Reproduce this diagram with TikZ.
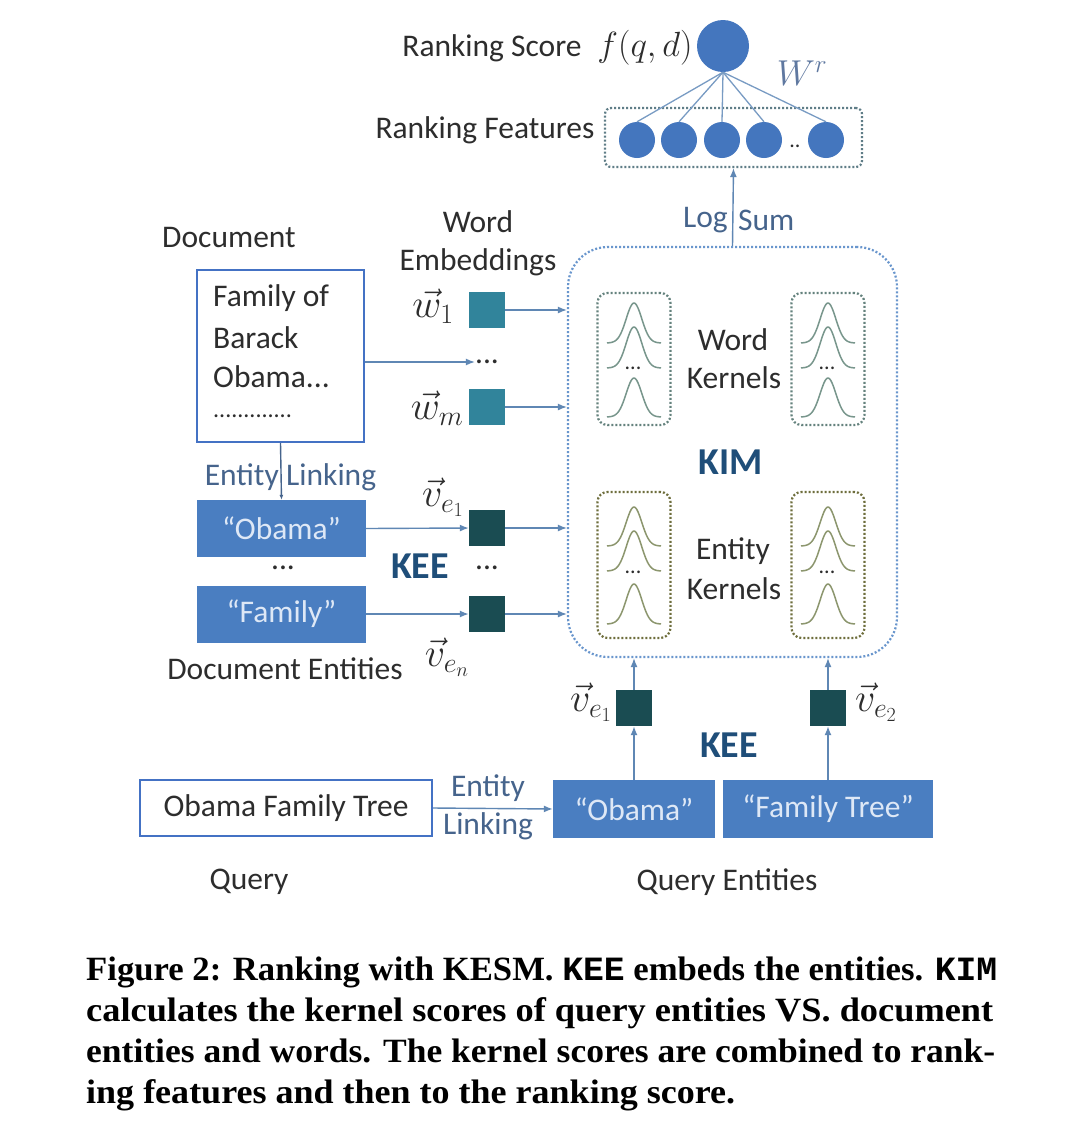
\RequirePackage{fix-cm}
\documentclass[tikz,border=0pt]{standalone}
\usepackage{amsmath}
\usepackage{fontspec}
\setmainfont{Carlito}
\newfontfamily\capfont{Liberation Serif}
\newfontfamily\capmono{Liberation Mono}
\usepackage{graphicx}
\usetikzlibrary{arrows.meta}

\definecolor{txt}{RGB}{45,45,45}
\definecolor{circblue}{RGB}{68,118,190}
\definecolor{featc}{RGB}{95,125,135}
\definecolor{linec}{RGB}{120,155,195}
\definecolor{wrc}{RGB}{95,120,160}
\definecolor{linkc}{RGB}{70,100,140}
\definecolor{kimc}{RGB}{105,150,205}
\definecolor{wkc}{RGB}{100,130,125}
\definecolor{ekc}{RGB}{110,110,60}
\definecolor{wcurve}{RGB}{120,150,140}
\definecolor{ecurve}{RGB}{140,150,110}
\definecolor{arrc}{RGB}{95,135,180}
\definecolor{docblue}{RGB}{68,114,196}
\definecolor{entblue}{RGB}{74,126,193}
\definecolor{enttxt}{RGB}{222,232,246}
\definecolor{wteal}{RGB}{49,132,155}
\definecolor{eteal}{RGB}{26,76,82}
\definecolor{keeblue}{RGB}{31,78,121}

\newcommand\gaussc[4]{\draw[#4] plot[domain=-27:27,samples=41,smooth] ({#1+\x},{#3-(#3-#2)*exp(-(\x/11)*(\x/11))});}

\begin{document}
\begin{tikzpicture}[x=1pt,y=-1pt,
  lbl/.style={font=\fontsize{31.5}{36}\selectfont, text=txt, inner sep=0pt},
  mth/.style={font=\fontsize{40}{44}\selectfont, text=txt, inner sep=0pt},
  bld/.style={font=\fontsize{38}{40}\selectfont\bfseries, text=keeblue, inner sep=0pt},
  arr/.style={draw=arrc, line width=1.4pt, -{Latex[length=9pt,width=7pt]}},
  docbox/.style={draw=docblue, line width=2.2pt, fill=white, inner sep=0pt},
  entbox/.style={fill=entblue, inner sep=0pt, text=enttxt, font=\fontsize{31.5}{36}\selectfont},
  wsq/.style={fill=wteal, minimum size=36, inner sep=0pt},
  esq/.style={fill=eteal, minimum size=36, inner sep=0pt},
  fcirc/.style={circle, fill=circblue, minimum size=36, inner sep=0pt},
  dotb/.style={draw=#1, line width=2.2pt, dash pattern=on 2pt off 2pt, inner sep=0pt},
  wcur/.style={draw=wcurve, line width=1.5pt},
  ecur/.style={draw=ecurve, line width=1.5pt},
  capline/.style={anchor=base west, inner sep=0pt, text=black, font=\capfont\bfseries\fontsize{34}{41}\selectfont},
]
\fill[white] (0,0) rectangle (1080,1133);
\useasboundingbox (0,0) rectangle (1080,1133);

% ---------- top: ranking score & features
\node[circle, fill=circblue, minimum size=52, inner sep=0pt] (score) at (723,46) {};
\node[lbl] (rs) at (492,48) {Ranking Score};
\node[mth, font=\fontsize{35}{40}\selectfont] (fqd) at (645,48) {$f(q,d)$};
\node[dotb=featc, rounded corners=6pt, minimum width=257, minimum height=59] (feat) at (733.5,137.5) {};
\foreach \n/\xx in {1/637,2/679,3/722,4/764,5/826} \node[fcirc] (f\n) at (\xx,140) {};
\node[lbl, font=\fontsize{22}{22}\selectfont] (fdots) at (795,146) {..};
\foreach \n in {1,...,5} \draw[draw=linec, line width=1.3pt] (score.south) -- (f\n.north);
\node[mth, text=wrc, font=\fontsize{36}{40}\selectfont] (wlabel) at (802,73) {$W^r$};
\node[lbl] (rf) at (485,130) {Ranking Features};

% ---------- KIM
\node[dotb=kimc, rounded corners=40pt, minimum width=329, minimum height=410] (kim) at (732.5,452) {};
\draw[arr] (kim.north) -- (feat.south);
\node[lbl, text=linkc, anchor=east] (log) at (728,220) {Log};
\node[lbl, text=linkc, anchor=west] (sum) at (738,220) {Sum};

\node[dotb=wkc, rounded corners=10pt, minimum width=73, minimum height=132] (kwl) at (634,359) {};
\node[dotb=wkc, rounded corners=10pt, minimum width=73, minimum height=132] (kwr) at (828,359) {};
\node[dotb=ekc, rounded corners=10pt, minimum width=73, minimum height=146] (kel) at (634,565) {};
\node[dotb=ekc, rounded corners=10pt, minimum width=73, minimum height=146] (ker) at (828,565) {};

\foreach \cx in {634,828}{
  \gaussc{\cx}{303}{343}{wcur}
  \gaussc{\cx}{327}{368}{wcur}
  \gaussc{\cx}{378}{417}{wcur}
  \gaussc{\cx}{507}{546}{ecur}
  \gaussc{\cx}{531}{571}{ecur}
  \gaussc{\cx}{584}{624}{ecur}
}
\node[lbl, font=\fontsize{22}{22}\selectfont] (kd1) at (633,368) {...};
\node[lbl, font=\fontsize{22}{22}\selectfont] (kd2) at (827,368) {...};
\node[lbl, font=\fontsize{22}{22}\selectfont] (kd3) at (633,572) {...};
\node[lbl, font=\fontsize{22}{22}\selectfont] (kd4) at (827,572) {...};

\node[lbl] (wk1) at (733,340) {Word};
\node[lbl] (wk2) at (734,378) {Kernels};
\node[bld] (kimt) at (731,462) {KIM};
\node[lbl] (ek1) at (733,551) {Entity};
\node[lbl] (ek2) at (734,589) {Kernels};

% ---------- document & word embeddings
\node[lbl] (doct) at (229,238) {Document};
\node[docbox, minimum width=167, minimum height=172] (doc) at (280.5,356) {};
\node[lbl, anchor=west] (d1) at (213,298) {Family of};
\node[lbl, anchor=west] (d2) at (213,338) {Barack};
\node[lbl, anchor=west] (d3) at (213,377) {Obama...};
\node[lbl, anchor=west, font=\fontsize{24}{24}\selectfont] (d4) at (213,416) {.............};

\node[lbl] (we1) at (478,222) {Word};
\node[lbl] (we2) at (478,262) {Embeddings};
\node[wsq] (w1) at (487,310) {};
\node[wsq] (wm) at (487,407) {};
\node[lbl] (wdots) at (487,362) {...};
\node[mth] (w1l) at (433,306) {$\vec{w}_1$};
\node[mth] (wml) at (437,408) {$\vec{w}_m$};
\draw[arr] (doc.east |- wdots) -- (wdots.west);
\draw[arr] (w1.east) -- (kim.west |- w1);
\draw[arr] (wm.east) -- (kim.west |- wm);

% ---------- document entities
\node[entbox, minimum width=169, minimum height=57] (dobama) at (281.5,528.5) {“Obama”};
\node[entbox, minimum width=169, minimum height=57] (dfamily) at (281.5,614) {“Family”};
\node[lbl] (dedots) at (283,568) {...};
\draw[draw=linkc, line width=1.4pt, -{Latex[length=5pt,width=4pt]}] (doc.south) -- (dobama.north);
\node[lbl, text=linkc, anchor=east] (el1) at (279,477) {Entity};
\node[lbl, text=linkc, anchor=west] (el2) at (286,477) {Linking};
\node[bld] (kee1) at (420,566) {KEE};
\node[esq] (e1) at (487,528) {};
\node[esq] (en) at (487,614) {};
\node[lbl] (edots) at (487,568) {...};
\node[mth] (e1l) at (443,497) {$\vec{v}_{e_1}$};
\node[mth] (enl) at (447,657) {$\vec{v}_{e_n}$};
\draw[arr] (dobama.east) -- (e1.west);
\draw[arr] (dfamily.east |- en) -- (en.west);
\draw[arr] (e1.east) -- (kim.west |- e1);
\draw[arr] (en.east) -- (kim.west |- en);
\node[lbl] (dent) at (285,669) {Document Entities};

% ---------- query
\node[docbox, minimum width=292, minimum height=56, lbl] (query) at (286,808) {Obama Family Tree};
\node[entbox, minimum width=162, minimum height=58] (qobama) at (634,809) {“Obama”};
\node[entbox, minimum width=210, minimum height=58] (qfam) at (828,809) {“Family Tree”};
\draw[arr] (query.east) -- (qobama.west);
\node[lbl, text=linkc] (ql1) at (488,788) {Entity};
\node[lbl, text=linkc] (ql2) at (488,826) {Linking};
\node[esq] (qe1) at (634,708) {};
\node[esq] (qe2) at (828,708) {};
\draw[arr] (qobama.north) -- (qe1.south);
\draw[arr] (qfam.north) -- (qe2.south);
\draw[arr] (qe1.north) -- (kim.south -| qe1);
\draw[arr] (qe2.north) -- (kim.south -| qe2);
\node[mth] (qe1l) at (591,702) {$\vec{v}_{e_1}$};
\node[mth] (qe2l) at (876,702) {$\vec{v}_{e_2}$};
\node[bld] (kee2) at (729,745) {KEE};
\node[lbl] (qt) at (249,882) {Query};
\node[lbl] (qet) at (727,882) {Query Entities};

% ---------- caption
\node[capline] (c1) at (86,980) {\resizebox{911pt}{\height}{Figure 2: Ranking with KESM. {\capmono\bfseries KEE} embeds the entities. {\capmono\bfseries KIM}}};
\node[capline] (c2) at (86,1021) {\resizebox{907pt}{\height}{calculates the kernel scores of query entities VS. document}};
\node[capline] (c3) at (86,1062) {\resizebox{909pt}{\height}{entities and words. The kernel scores are combined to rank-}};
\node[capline] (c4) at (86,1103) {\resizebox{649pt}{\height}{ing features and then to the ranking score.}};
\end{tikzpicture}
\end{document}
